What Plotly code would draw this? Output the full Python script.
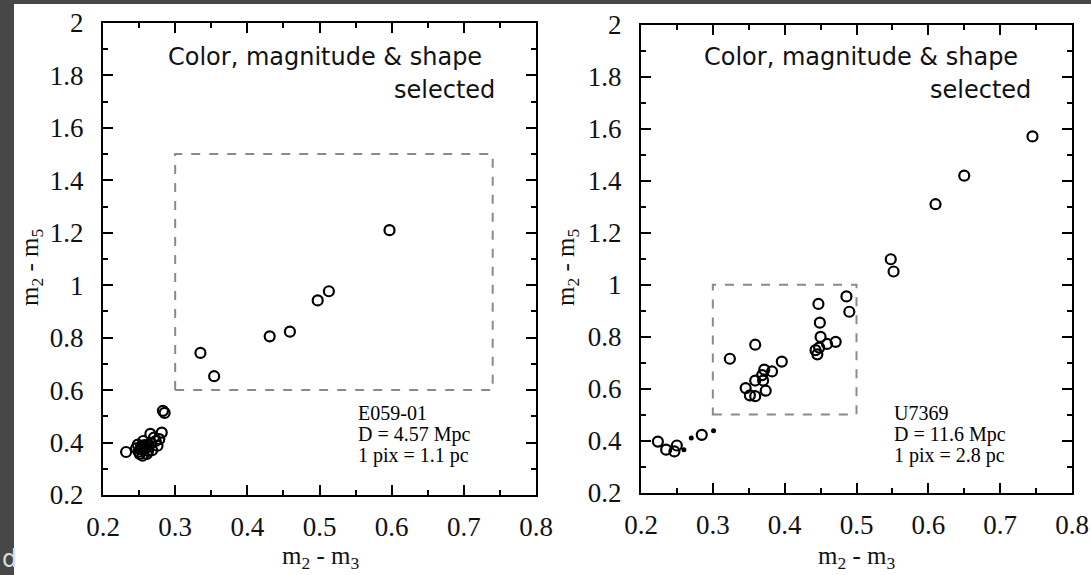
import plotly.graph_objects as go

W, H = 1091, 575

# ---------------- data ----------------
left_x = [0.597, 0.513, 0.4975, 0.459, 0.431, 0.335, 0.354, 0.2854, 0.283, 0.232,
          0.2483, 0.253, 0.2508, 0.258, 0.263, 0.2656, 0.268, 0.273, 0.278, 0.2814,
          0.2755, 0.2607, 0.2557, 0.2459, 0.2706, 0.2548, 0.2495, 0.2575, 0.2625,
          0.2665, 0.2525, 0.2600]
left_y = [1.21, 0.977, 0.942, 0.823, 0.805, 0.742, 0.653, 0.513, 0.521, 0.364,
          0.392, 0.374, 0.357, 0.378, 0.392, 0.433, 0.371, 0.406, 0.413, 0.438,
          0.388, 0.357, 0.406, 0.378, 0.419, 0.350, 0.365, 0.390, 0.368,
          0.398, 0.384, 0.380]

right_x = [0.745, 0.650, 0.610, 0.5477, 0.5516, 0.486, 0.490, 0.447, 0.449, 0.450,
           0.471, 0.459, 0.448, 0.443, 0.4455, 0.359, 0.3237, 0.396, 0.3824, 0.3716,
           0.3687, 0.370, 0.359, 0.3736, 0.3457, 0.3516, 0.359, 0.2235, 0.235, 0.2465,
           0.2499, 0.2846]
right_y = [1.571, 1.420, 1.310, 1.098, 1.051, 0.955, 0.896, 0.926, 0.854, 0.799,
           0.780, 0.772, 0.758, 0.748, 0.732, 0.769, 0.715, 0.704, 0.666, 0.673,
           0.652, 0.631, 0.631, 0.592, 0.602, 0.574, 0.571, 0.396, 0.365, 0.358,
           0.381, 0.422]
right_dot_x = [0.2597, 0.270, 0.301]
right_dot_y = [0.365, 0.410, 0.438]

x_ticks = [0.2, 0.3, 0.4, 0.5, 0.6, 0.7, 0.8]
x_ticktext = ["0.2", "0.3", "0.4", "0.5", "0.6", "0.7", "0.8"]
y_ticks = [0.2, 0.4, 0.6, 0.8, 1.0, 1.2, 1.4, 1.6, 1.8, 2.0]
y_ticktext = ["0.2", "0.4", "0.6", "0.8", "1", "1.2", "1.4", "1.6", "1.8", "2"]

left_box = [0.3, 0.74, 0.6, 1.5]    # x0, x1, y0, y1
right_box = [0.3, 0.5, 0.5, 1.0]

left_info = ["E059-01", "D = 4.57 Mpc", "1 pix = 1.1 pc"]
right_info = ["U7369", "D = 11.6 Mpc", "1 pix = 2.8 pc"]
panel_note_1 = "Color, magnitude & shape"
panel_note_2 = "selected"
x_title = "m<sub>2</sub> - m<sub>3</sub>"
y_title = "m<sub>2</sub> - m<sub>5</sub>"


def px(x):
    return x / W


def py(y):
    return 1 - y / H


SERIF = "Liberation Serif, Times New Roman, serif"
SANS = "DejaVu Sans"
TXT = "#111111"

fig = go.Figure()

circle = dict(symbol="circle-open", size=10, color="black", line=dict(width=2.2, color="black"))

fig.add_trace(go.Scatter(x=left_x, y=left_y, mode="markers", marker=circle,
                         xaxis="x", yaxis="y", showlegend=False))
fig.add_trace(go.Scatter(x=right_x, y=right_y, mode="markers", marker=circle,
                         xaxis="x2", yaxis="y2", showlegend=False))
fig.add_trace(go.Scatter(x=right_dot_x, y=right_dot_y, mode="markers",
                         marker=dict(symbol="circle", size=5, color="black"),
                         xaxis="x2", yaxis="y2", showlegend=False))


def xaxis_def(dom, anchor):
    return dict(domain=dom, anchor=anchor, range=[0.2, 0.8], tickvals=x_ticks, ticktext=x_ticktext,
                automargin=False,
                showline=True, linecolor="black", linewidth=2, mirror="allticks",
                ticks="inside", ticklen=10, tickwidth=2, tickcolor="black",
                minor=dict(dtick=0.05, tick0=0.2, ticks="inside", ticklen=5, tickwidth=2, tickcolor="black"),
                showgrid=False, zeroline=False,
                tickfont=dict(family=SERIF, size=27, color=TXT), ticklabelstandoff=7)


def yaxis_def(dom, anchor):
    return dict(domain=dom, anchor=anchor, range=[0.2, 2.0], tickvals=y_ticks, ticktext=y_ticktext,
                automargin=False,
                showline=True, linecolor="black", linewidth=2, mirror="allticks",
                ticks="inside", ticklen=10, tickwidth=2, tickcolor="black",
                minor=dict(dtick=0.1, tick0=0.2, ticks="inside", ticklen=5, tickwidth=2, tickcolor="black"),
                showgrid=False, zeroline=False,
                tickfont=dict(family=SERIF, size=27, color=TXT), ticklabelstandoff=12)


shapes = [
    # dark frame strips
    dict(type="rect", xref="paper", yref="paper", x0=0, x1=px(14), y0=0, y1=1,
         fillcolor="#474747", line=dict(width=0), layer="below"),
    dict(type="rect", xref="paper", yref="paper", x0=0, x1=1, y0=py(4), y1=1,
         fillcolor="#474747", line=dict(width=0), layer="below"),
    dict(type="rect", xref="x", yref="y", x0=left_box[0], x1=left_box[1], y0=left_box[2], y1=left_box[3],
         line=dict(color="#8a8a8a", width=2, dash="dash")),
    dict(type="rect", xref="x2", yref="y2", x0=right_box[0], x1=right_box[1], y0=right_box[2], y1=right_box[3],
         line=dict(color="#8a8a8a", width=2, dash="dash")),
]

ann = []
# panel notes
for (l1x, l2x) in [(166, 497), (702, 1033)]:
    ann.append(dict(xref="paper", yref="paper", x=px(l1x), y=py(57), xanchor="left", yanchor="middle",
                    text=panel_note_1, showarrow=False, font=dict(family=SANS, size=24, color=TXT)))
    ann.append(dict(xref="paper", yref="paper", x=px(l2x), y=py(90), xanchor="right", yanchor="middle",
                    text=panel_note_2, showarrow=False, font=dict(family=SANS, size=24, color=TXT)))
# info text
for (ix, lines) in [(356, left_info), (892, right_info)]:
    for k, line in enumerate(lines):
        ann.append(dict(xref="paper", yref="paper", x=px(ix), y=py(413 + 21 * k), xanchor="left",
                        yanchor="middle", text=line, showarrow=False,
                        font=dict(family=SERIF, size=20, color="black")))
# axis titles
for cx in [320, 856]:
    ann.append(dict(xref="paper", yref="paper", x=px(cx), y=py(557), xanchor="center", yanchor="middle",
                    text=x_title, showarrow=False, font=dict(family=SERIF, size=25, color=TXT)))
for cx in [31, 567]:
    ann.append(dict(xref="paper", yref="paper", x=px(cx), y=py(268), xanchor="center", yanchor="middle",
                    text=y_title, textangle=-90, showarrow=False, font=dict(family=SERIF, size=25, color=TXT)))
# stray letter in the dark frame
ann.append(dict(xref="paper", yref="paper", x=px(0), y=py(575), xanchor="left", yanchor="bottom",
                text="d", showarrow=False, font=dict(family=SANS, size=24, color="#dddddd")))

fig.update_layout(
    template="none",
    width=W, height=H, margin=dict(l=0, r=0, t=0, b=0, pad=0, autoexpand=False),
    paper_bgcolor="white", plot_bgcolor="white",
    xaxis=xaxis_def([px(103), px(536)], "y"),
    yaxis=yaxis_def([py(495), py(23)], "x"),
    xaxis2=xaxis_def([px(641), px(1072)], "y2"),
    yaxis2=yaxis_def([py(492.5), py(25)], "x2"),
    shapes=shapes, annotations=ann,
)

fig.write_html("out.html")
